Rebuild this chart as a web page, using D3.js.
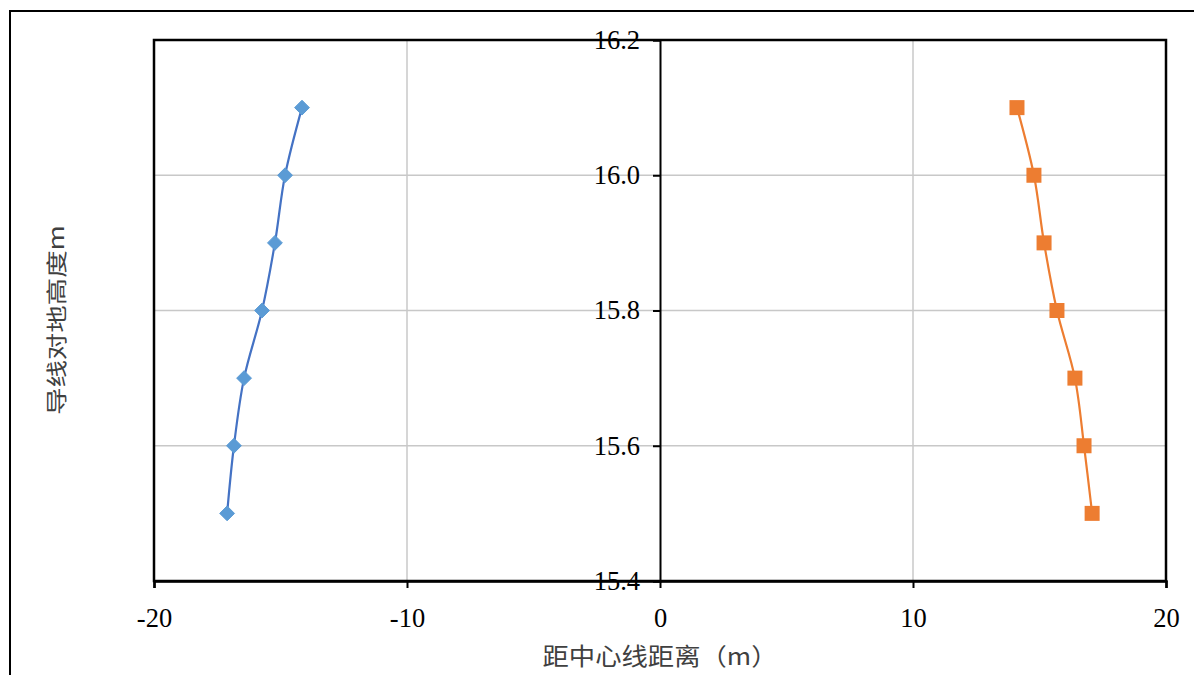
<!DOCTYPE html>
<html><head><meta charset="utf-8">
<script src="https://cdn.jsdelivr.net/npm/d3@7/dist/d3.min.js"></script>
<style>html,body{margin:0;padding:0;background:#fff;}svg{display:block;}</style>
</head><body>
<svg id="c" width="1194" height="675"></svg>
<script>
const heights = [16.1, 16.0, 15.9, 15.8, 15.7, 15.6, 15.5];
const leftDist = [-14.15, -14.82, -15.22, -15.73, -16.44, -16.84, -17.11];
const rightDist = [14.11, 14.78, 15.18, 15.69, 16.40, 16.76, 17.08];
const xTicks = [-20, -10, 0, 10, 20];
const yTicks = [15.4, 15.6, 15.8, 16.0, 16.2];
const xTitle = "距中心线距离（m）";
const yTitle = "导线对地高度m";

const svg = d3.select("#c");
const L = 154, R = 1166, T = 40, B = 581;
const x = d3.scaleLinear().domain([-20, 20]).range([L, R]);
const y = d3.scaleLinear().domain([15.4, 16.2]).range([B, T]);
const serif = "'Liberation Serif','Times New Roman',serif";
const cjk = "'Noto Sans CJK SC',sans-serif";

// outer frame
svg.append("rect").attr("x", 10).attr("y", 11).attr("width", 1200).attr("height", 700)
  .attr("fill", "none").attr("stroke", "#000").attr("stroke-width", 2);

// gridlines
svg.append("g").selectAll("line").data(xTicks.filter(d => d !== -20 && d !== 20 && d !== 0)).join("line")
  .attr("x1", d => x(d)).attr("x2", d => x(d)).attr("y1", T).attr("y2", B)
  .attr("stroke", "#c8c8c8").attr("stroke-width", 1.5);
svg.append("g").selectAll("line").data(yTicks.filter(d => d !== 15.4 && d !== 16.2)).join("line")
  .attr("x1", L).attr("x2", R).attr("y1", d => y(d)).attr("y2", d => y(d))
  .attr("stroke", "#c8c8c8").attr("stroke-width", 1.5);

// plot border
svg.append("rect").attr("x", L).attr("y", T).attr("width", R - L).attr("height", B - T)
  .attr("fill", "none").attr("stroke", "#000").attr("stroke-width", 2.5);

// x axis
const xAxis = svg.append("g").attr("transform", `translate(0,${B})`)
  .call(d3.axisBottom(x).tickValues(xTicks).tickSize(7).tickPadding(20).tickFormat(d => String(d)));
xAxis.select(".domain").attr("stroke-width", 2.5);
xAxis.selectAll(".tick line").attr("stroke-width", 2);
xAxis.selectAll("text").attr("font-family", serif).attr("font-size", 26.5).attr("fill", "#000");

// y axis at x=0
const yAxis = svg.append("g").attr("transform", `translate(${x(0)},0)`)
  .call(d3.axisLeft(y).tickValues(yTicks).tickSize(7).tickPadding(13).tickFormat(d3.format(".1f")));
yAxis.select(".domain").attr("stroke-width", 2);
yAxis.selectAll(".tick line").attr("stroke-width", 2);
yAxis.selectAll("text").attr("font-family", serif).attr("font-size", 26.5).attr("fill", "#000");

// lines
const lineL = d3.line().x(d => x(d[0])).y(d => y(d[1])).curve(d3.curveCatmullRom.alpha(0.5));
const dataL = leftDist.map((v, i) => [v, heights[i]]);
const dataR = rightDist.map((v, i) => [v, heights[i]]);

svg.append("path").datum(dataL).attr("d", lineL).attr("fill", "none")
  .attr("stroke", "#4472c4").attr("stroke-width", 2.2);
svg.append("path").datum(dataR).attr("d", lineL).attr("fill", "none")
  .attr("stroke", "#ed7d31").attr("stroke-width", 2.2);

// markers
svg.append("g").selectAll("path").data(dataL).join("path")
  .attr("transform", d => `translate(${x(d[0])},${y(d[1])})`)
  .attr("d", d3.symbol().type(d3.symbolDiamond2).size(140)())
  .attr("fill", "#5b9bd5").attr("stroke", "#5b9bd5").attr("stroke-width", 1);
svg.append("g").selectAll("rect").data(dataR).join("rect")
  .attr("x", d => x(d[0]) - 7.5).attr("y", d => y(d[1]) - 7.5)
  .attr("width", 15).attr("height", 15)
  .attr("fill", "#ed7d31");

// titles
svg.append("text").attr("x", 660).attr("y", 665).attr("text-anchor", "middle")
  .attr("font-family", cjk).attr("font-size", 24).attr("fill", "#404040")
  .attr("textLength", 235).attr("lengthAdjust", "spacingAndGlyphs").text(xTitle);
svg.append("text").attr("transform", `translate(64,320) rotate(-90)`)
  .attr("text-anchor", "middle").attr("font-family", cjk).attr("font-size", 21).attr("fill", "#404040")
  .attr("textLength", 190).attr("lengthAdjust", "spacingAndGlyphs").text(yTitle);
</script>
</body></html>
